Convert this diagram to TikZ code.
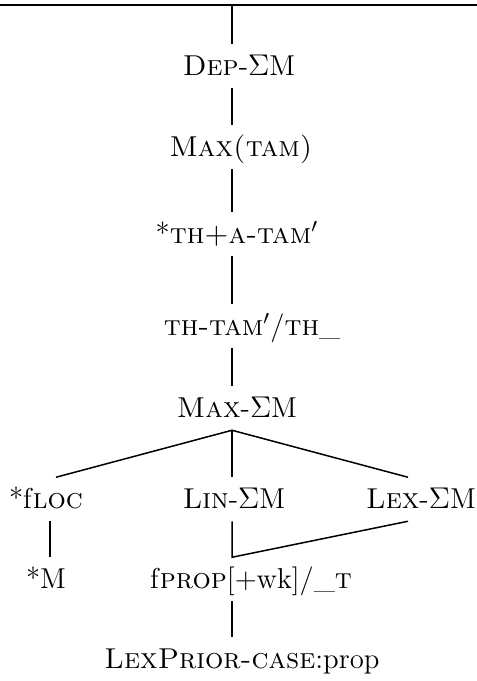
\documentclass[tikz,border=0pt]{standalone}
\begin{document}
\begin{tikzpicture}[x=0.4pt,y=-0.4pt,line width=0.6pt,
  lbl/.style={anchor=base,inner xsep=1pt,inner ysep=3pt,text height=9pt,text depth=2pt,
    font=\fontsize{11.5}{14}\selectfont}]
\useasboundingbox (0,0) rectangle (477,681);
\draw[line width=0.8pt] (0,5) -- (477,5);
\coordinate (axis) at (232,5);
\node[lbl] (dep) at (239,75) {\textsc{Dep}-$\Sigma$M};
\node[lbl] (max) at (241,156) {\textsc{Max(tam)}};
\node[lbl] (tha) at (237,243) {*\textsc{th+a-tam}$'$};
\node[lbl] (thtam) at (252,335) {\textsc{th-tam}$'$/\textsc{th}\_};
\node[lbl] (maxs) at (237,417) {\textsc{Max}-$\Sigma$M};
\node[lbl] (floc) at (46,508) {*f\textsc{loc}};
\node[lbl] (lin) at (234,508) {\textsc{Lin}-$\Sigma$M};
\node[lbl] (lex) at (421,508) {\textsc{Lex}-$\Sigma$M};
\node[lbl] (starm) at (46,588) {*M};
\node[lbl] (fprop) at (251,588) {f\textsc{prop}[+wk]/\_\textsc{t}};
\node[lbl] (lexprior) at (242,668) {\textsc{LexPrior-case}:prop};
\draw (axis) -- (dep.north -| axis);
\draw (dep.south -| axis) -- (max.north -| axis);
\draw (max.south -| axis) -- (tha.north -| axis);
\draw (tha.south -| axis) -- (thtam.north -| axis);
\draw (thtam.south -| axis) -- (maxs.north -| axis);
\draw ([xshift=4pt]floc.north) -- (maxs.south -| axis) -- ([xshift=-5.2pt]lex.north);
\draw (maxs.south -| axis) -- (lin.north -| axis);
\draw ([xshift=1.6pt]floc.south) -- ([xshift=1.6pt]starm.north);
\draw (lin.south -| axis) -- (fprop.north -| axis) -- ([xshift=-5.2pt]lex.south);
\draw (fprop.south -| axis) -- (lexprior.north -| axis);
\end{tikzpicture}
\end{document}
